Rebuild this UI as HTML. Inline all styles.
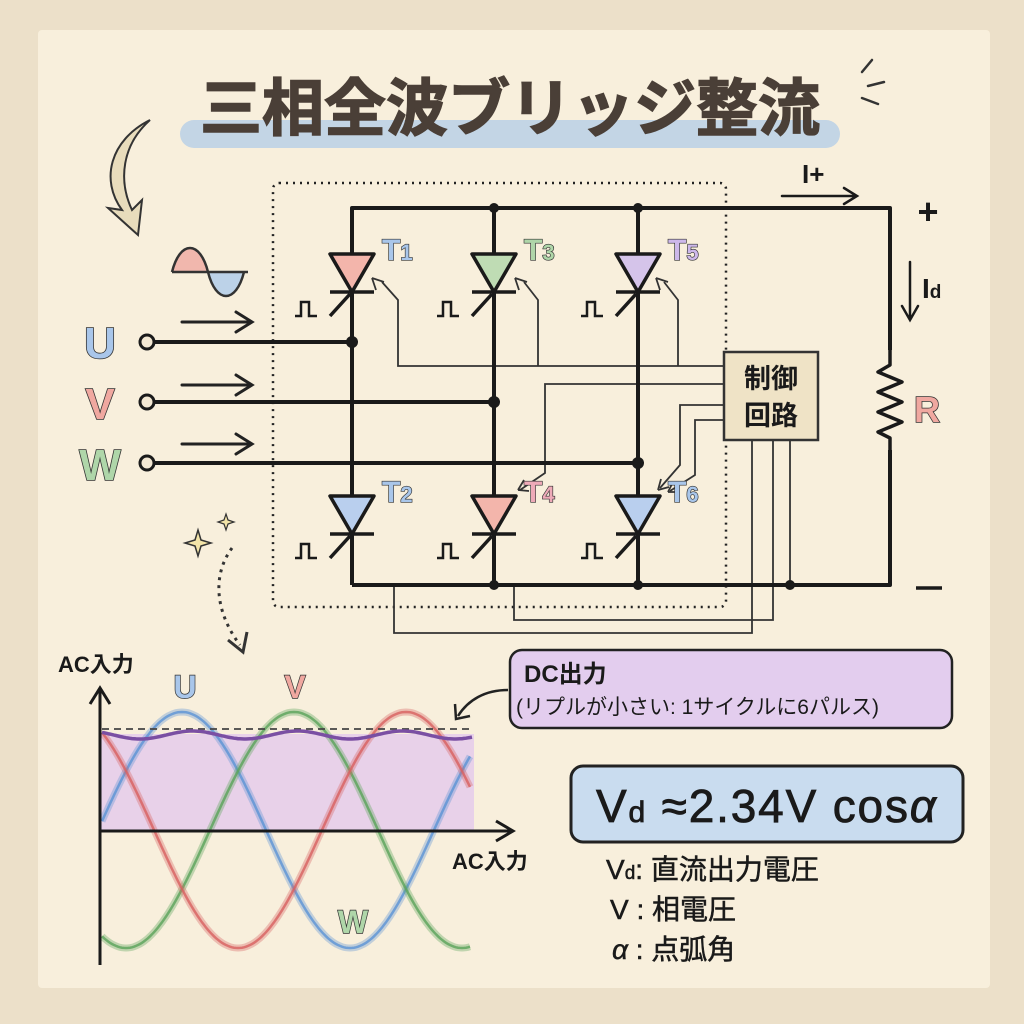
<!DOCTYPE html>
<html><head><meta charset="utf-8"><style>
html,body{margin:0;padding:0;background:#ede2cc;}
svg{display:block}
text{font-family:"Liberation Sans","Noto Sans CJK JP",sans-serif;}
</style></head><body>
<svg id="s" width="1024" height="1024" viewBox="0 0 1024 1024" xmlns="http://www.w3.org/2000/svg">
<rect x="0" y="0" width="1024" height="1024" fill="#ece0c9"/>
<rect x="38" y="30" width="952" height="958" fill="#f8efdc" rx="4"/>
<!-- title -->
<rect x="180" y="120" width="660" height="28" rx="14" fill="#bcd2e6" opacity="0.9"/>
<text x="510" y="130" text-anchor="middle" font-size="62" font-weight="bold" fill="#4a3f37" stroke="#4a3f37" stroke-width="1.5" font-family="Noto Sans CJK JP, sans-serif">三相全波ブリッジ整流</text>
<g stroke="#333" stroke-width="2.5" stroke-linecap="round"><line x1="862" y1="72" x2="872" y2="60"/><line x1="868" y1="86" x2="884" y2="82"/><line x1="862" y1="98" x2="878" y2="104"/></g>
<!-- curved arrow top left -->
<path d="M150 120 C110 140 100 180 122 210 L108 208 L138 235 L142 200 L132 210 C118 180 122 145 150 120 Z" fill="#e8dcbc" stroke="#333" stroke-width="2"/>
<!-- small sine -->
<path d="M172 272 C180 240 200 240 208 272 Z" fill="#f1b7ad"/>
<path d="M208 272 C216 304 236 304 244 272 Z" fill="#bcd2e8"/>
<path d="M172 272 C180 240 200 240 208 272 C216 304 236 304 244 272" fill="none" stroke="#333" stroke-width="2.5"/>
<line x1="172" y1="272" x2="248" y2="272" stroke="#333" stroke-width="2.5"/>
<!-- input arrows -->
<g stroke="#222" stroke-width="3" fill="none" stroke-linecap="round">
<path d="M182 322 H250 M236 312 L252 322 L236 332"/>
<path d="M182 385 H250 M236 375 L252 385 L236 395"/>
<path d="M182 444 H250 M236 434 L252 444 L236 454"/>
</g>
<g font-size="44" font-weight="bold" stroke="#333" stroke-width="1.6" paint-order="stroke" text-anchor="middle" font-family="DejaVu Sans, sans-serif">
<text x="100" y="358" fill="#a9c6ea">U</text>
<text x="100" y="419" fill="#f0a8a0">V</text>
<text x="100" y="480" fill="#afd6a9">W</text>
</g>
<!-- dotted box -->
<rect x="273" y="183" width="453" height="424" rx="6" fill="none" stroke="#222" stroke-width="2.5" stroke-dasharray="2 5"/>
<!-- control wires -->
<g stroke="#333" stroke-width="1.8" fill="none">
<path d="M724 366 H398 V300 L382 282"/><path d="M372 278 l4 12 M372 278 l12 4"/>
<path d="M538 366 V300 L524 282"/><path d="M515 278 l4 12 M515 278 l12 4"/>
<path d="M678 366 V300 L664 282"/><path d="M656 278 l4 12 M656 278 l12 4"/>
<path d="M724 384 H545 V473 L520 490"/><path d="M518 490 l6 -10 M518 490 l11 1"/>
<path d="M724 405 H680 V465 L660 488"/><path d="M658 490 l3 -11 M658 490 l11 -3"/>
<path d="M724 420 H695 V475 L670 491"/><path d="M668 492 l5 -10 M668 492 l11 0"/>
<path d="M773 440 V620 H514 V585"/>
<path d="M752 440 V633 H394 V585"/>
<path d="M790 440 V585"/>
</g>
<!-- main wiring -->
<g stroke="#1a1a1a" stroke-width="4" fill="none" stroke-linejoin="round">
<path d="M352 585 V208 H890 V585 H352"/>
<line x1="494" y1="208" x2="494" y2="585"/>
<line x1="638" y1="208" x2="638" y2="585"/>
<line x1="153" y1="342" x2="352" y2="342"/>
<line x1="153" y1="402" x2="494" y2="402"/>
<line x1="153" y1="463" x2="638" y2="463"/>
</g>
<rect x="880" y="350" width="20" height="100" fill="#f8efdc"/>
<path d="M890 350 L890 365 L878 372 L902 382 L878 392 L902 402 L878 412 L902 422 L878 432 L890 438 V450" fill="none" stroke="#1a1a1a" stroke-width="3.5" stroke-linejoin="round"/>
<g fill="#1a1a1a">
<circle cx="494" cy="208" r="5"/><circle cx="638" cy="208" r="5"/>
<circle cx="352" cy="342" r="6"/><circle cx="494" cy="402" r="6"/><circle cx="638" cy="463" r="6"/>
<circle cx="494" cy="585" r="5"/><circle cx="638" cy="585" r="5"/><circle cx="790" cy="585" r="5"/>
</g>
<g fill="#f3e8d3" stroke="#1a1a1a" stroke-width="3">
<circle cx="147" cy="342" r="7"/><circle cx="147" cy="402" r="7"/><circle cx="147" cy="463" r="7"/>
</g>
<!-- thyristors -->
<g id="thy"></g>
<!-- control box -->
<rect x="724" y="352" width="94" height="88" fill="#efe3c6" stroke="#333" stroke-width="2.5"/>
<text x="771" y="388" text-anchor="middle" font-size="27" font-weight="bold" fill="#1a1a1a" font-family="Noto Sans CJK JP, sans-serif">制御</text>
<text x="771" y="425" text-anchor="middle" font-size="27" font-weight="bold" fill="#1a1a1a" font-family="Noto Sans CJK JP, sans-serif">回路</text>
<!-- I+ Id R +/- -->
<g stroke="#1a1a1a" stroke-width="2.5" fill="none" stroke-linecap="round">
<path d="M782 196 H856 M844 188 L857 196 L844 204"/>
<path d="M910 262 V318 M902 306 L910 320 L918 306"/>
</g>
<text x="802" y="183" font-size="26" fill="#1a1a1a" font-family="Liberation Serif, serif" font-weight="bold">I+</text>
<text x="922" y="298" font-size="28" font-weight="bold" fill="#1a1a1a" font-family="Liberation Serif, serif">I<tspan font-size="19" font-family="Liberation Sans, sans-serif">d</tspan></text>
<text x="914" y="422" font-size="36" fill="#f0a8a0" stroke="#333" stroke-width="1.5" paint-order="stroke" font-family="DejaVu Sans, sans-serif" font-weight="bold">R</text>
<text x="928" y="224" text-anchor="middle" font-size="36" font-weight="bold" fill="#1a1a1a">+</text>
<line x1="916" y1="588" x2="942" y2="588" stroke="#1a1a1a" stroke-width="3.5"/>
<!-- sparkles + dotted arrow -->
<path d="M198 530 l3 10 l10 3 l-10 3 l-3 10 l-3 -10 l-10 -3 l10 -3 Z" fill="#f3e4a8" stroke="#333" stroke-width="1.5"/>
<path d="M226 514 l2 6 l6 2 l-6 2 l-2 6 l-2 -6 l-6 -2 l6 -2 Z" fill="#f3e4a8" stroke="#333" stroke-width="1.2"/>
<path d="M232 548 C212 575 215 612 240 645" fill="none" stroke="#333" stroke-width="3" stroke-dasharray="3 5"/>
<path d="M228 640 L243 652 L247 632" fill="none" stroke="#333" stroke-width="3"/>
<!-- chart -->
<rect x="101" y="734" width="373" height="96" fill="#e5cdea" opacity="0.9"/>
<g id="waves"></g>
<line x1="102" y1="729" x2="472" y2="729" stroke="#444" stroke-width="1.8" stroke-dasharray="7 5"/>
<path id="dc" fill="none" stroke="#7a4fa3" stroke-width="3.5"/>
<g stroke="#1a1a1a" stroke-width="3" fill="none">
<line x1="100" y1="965" x2="100" y2="690"/><path d="M90 704 L100 688 L110 704"/>
<line x1="100" y1="831" x2="512" y2="831"/><path d="M496 821 L513 831 L496 841"/>
</g>
<text x="58" y="672" font-size="22" font-weight="bold" fill="#1a1a1a">AC入力</text>
<text x="452" y="869" font-size="22" font-weight="bold" fill="#1a1a1a">AC入力</text>
<g font-size="32" font-weight="bold" stroke="#333" stroke-width="1.4" paint-order="stroke" text-anchor="middle" font-family="DejaVu Sans, sans-serif">
<text x="185" y="698" fill="#a9c6ea">U</text>
<text x="295" y="698" fill="#f0a8a0">V</text>
<text x="353" y="933" fill="#afd6a9">W</text>
</g>
<!-- DC output callout -->
<rect x="510" y="650" width="442" height="78" rx="12" fill="#e3cdee" stroke="#222" stroke-width="2.5"/>
<text x="524" y="682" font-size="24" font-weight="bold" fill="#1a1a1a">DC出力</text>
<text x="516" y="714" font-size="21" fill="#1a1a1a">(リプルが小さい: 1サイクルに6パルス)</text>
<path d="M508 690 C485 690 468 700 458 716" fill="none" stroke="#222" stroke-width="2.5"/>
<path d="M455 704 L456 719 L470 716" fill="none" stroke="#222" stroke-width="2.5"/>
<!-- formula -->
<rect x="571" y="766" width="392" height="76" rx="12" fill="#c9dcef" stroke="#222" stroke-width="3"/>
<text x="596" y="822" font-size="46" fill="#1a1a1a" stroke="#1a1a1a" stroke-width="0.8" textLength="340">V<tspan font-size="30">d</tspan> ≈2.34V cos<tspan font-style="italic">α</tspan></text>
<g font-size="28" fill="#1a1a1a" stroke="#1a1a1a" stroke-width="0.5">
<text x="606" y="879">V<tspan font-size="19">d</tspan>: 直流出力電圧</text>
<text x="610" y="919"> V : 相電圧</text>
<text x="612" y="959"><tspan font-style="italic">α</tspan> : 点弧角</text>
</g>
</svg>
<script>
const NS="http://www.w3.org/2000/svg";
function el(t,a,p){const e=document.createElementNS(NS,t);for(const k in a)e.setAttribute(k,a[k]);p.appendChild(e);return e;}
const th=document.getElementById('thy');
const cols=[352,494,638];
const up=[['#f3b5ab','T1','#a9c6ea'],['#bfdcb4','T3','#afd6a9'],['#d5c4ea','T5','#cdb8ea']];
const lo=[['#b9cfee','T2','#a9c6ea'],['#f3b5ab','T4','#eeaab8'],['#b9cfee','T6','#a9c6ea']];
function thy(x,yt,c,lab,lc){
 el('polygon',{points:`${x-22},${yt} ${x+22},${yt} ${x},${yt+38}`,fill:c,stroke:'#1a1a1a','stroke-width':3.5,'stroke-linejoin':'round'},th);
 el('line',{x1:x-22,y1:yt+38,x2:x+22,y2:yt+38,stroke:'#1a1a1a','stroke-width':3.5},th);
 el('line',{x1:x-22,y1:yt+62,x2:x-2,y2:yt+40,stroke:'#1a1a1a','stroke-width':3.5},th);
 el('path',{d:`M${x-57} ${yt+62} h6 v-14 h8 v14 h8`,fill:'none',stroke:'#1a1a1a','stroke-width':2.5},th);
 const t=el('text',{x:x+30,y:yt+6,'font-size':30,'font-weight':'bold',fill:lc,stroke:'#333','stroke-width':1.3,'paint-order':'stroke','font-family':'DejaVu Sans, sans-serif'},th);
 t.textContent=lab[0];const s=el('tspan',{'font-size':22},t);s.textContent=lab[1];
}
cols.forEach((x,i)=>{thy(x,254,up[i][0],up[i][1],up[i][2]);thy(x,496,lo[i][0],lo[i][1],lo[i][2]);});
const W=document.getElementById('waves');
const P=336,A=118,C=830;
function wave(ph,col){let d='';for(let x=102;x<=470;x+=2){const y=C-A*Math.sin(2*Math.PI*(x-98-ph)/P);d+=(d?'L':'M')+x+' '+y.toFixed(1);}
 el('path',{d,fill:'none',stroke:col,'stroke-width':7,opacity:0.35},W);
 el('path',{d,fill:'none',stroke:col,'stroke-width':2.5,opacity:0.8},W);}
wave(0,'#5b93d4');wave(112,'#5aa35a');wave(224,'#d86060');
let d='';for(let x=102;x<=472;x+=2){const y=735+4*Math.cos(2*Math.PI*(x-140)/105);d+=(d?'L':'M')+x+' '+y.toFixed(1);}
document.getElementById('dc').setAttribute('d',d);
</script>
</body></html>
